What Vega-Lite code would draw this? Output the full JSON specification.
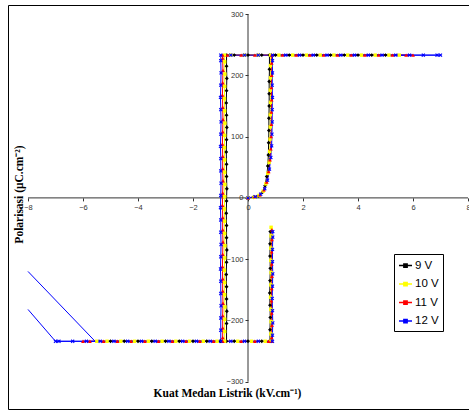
{
  "$schema": "https://vega.github.io/schema/vega-lite/v6.json",
  "width": 461,
  "height": 404,
  "autosize": "none",
  "padding": {"left": 8, "top": 5, "right": 0, "bottom": 2},
  "title": {"text": "(a)", "font": "Liberation Serif", "fontSize": 12, "fontWeight": "bold", "offset": 5, "baseline": "alphabetic", "anchor": "middle", "color": "#000"},
  "config": {"view": {"stroke": "#000", "strokeWidth": 1}, "font": "Liberation Sans"},
  "datasets": {
    "axes": [
      {"x": -8, "x2": 8, "y": 0, "y2": 0},
      {"x": 0, "x2": 0, "y": -300, "y2": 300}
    ],
    "tail": [
      {"x": -5.56, "y": -234, "x2": -8, "y2": -120},
      {"x": -7, "y": -234, "x2": -8, "y2": -182}
    ],
    "loops": [
      {"s":"9 V","x":0,"y":0},{"s":"9 V","x":0.2,"y":1},{"s":"9 V","x":0.38,"y":3},{"s":"9 V","x":0.52,"y":9},{"s":"9 V","x":0.62,"y":20},{"s":"9 V","x":0.68,"y":35},{"s":"9 V","x":0.72,"y":52},{"s":"9 V","x":0.74,"y":70},
      {"s":"9 V","x":0.75,"y":90},{"s":"9 V","x":0.76,"y":110},{"s":"9 V","x":0.76,"y":130},{"s":"9 V","x":0.77,"y":150},{"s":"9 V","x":0.77,"y":170},{"s":"9 V","x":0.77,"y":190},{"s":"9 V","x":0.78,"y":210},{"s":"9 V","x":0.78,"y":233},
      {"s":"9 V","x":1,"y":233},{"s":"9 V","x":1.5,"y":233},{"s":"9 V","x":2,"y":233},{"s":"9 V","x":2.5,"y":233},{"s":"9 V","x":3,"y":233},{"s":"9 V","x":3.5,"y":233},{"s":"9 V","x":4,"y":233},{"s":"9 V","x":4.5,"y":233},{"s":"9 V","x":5,"y":233},
      {"s":"9 V","x":0.5,"y":233},{"s":"9 V","x":0,"y":233},{"s":"9 V","x":-0.5,"y":233},{"s":"9 V","x":-0.78,"y":233},
      {"s":"9 V","x":-0.78,"y":215},{"s":"9 V","x":-0.77,"y":195},{"s":"9 V","x":-0.78,"y":175},{"s":"9 V","x":-0.79,"y":155},{"s":"9 V","x":-0.78,"y":135},{"s":"9 V","x":-0.77,"y":115},{"s":"9 V","x":-0.78,"y":95},{"s":"9 V","x":-0.79,"y":75},{"s":"9 V","x":-0.78,"y":55},{"s":"9 V","x":-0.78,"y":35},{"s":"9 V","x":-0.77,"y":15},{"s":"9 V","x":-0.78,"y":-5},{"s":"9 V","x":-0.79,"y":-25},{"s":"9 V","x":-0.78,"y":-45},{"s":"9 V","x":-0.78,"y":-65},{"s":"9 V","x":-0.77,"y":-85},{"s":"9 V","x":-0.78,"y":-105},{"s":"9 V","x":-0.79,"y":-125},{"s":"9 V","x":-0.78,"y":-145},{"s":"9 V","x":-0.78,"y":-165},{"s":"9 V","x":-0.77,"y":-185},{"s":"9 V","x":-0.78,"y":-205},{"s":"9 V","x":-0.78,"y":-234},
      {"s":"9 V","x":-1,"y":-234},{"s":"9 V","x":-1.5,"y":-234},{"s":"9 V","x":-2,"y":-234},{"s":"9 V","x":-2.5,"y":-234},{"s":"9 V","x":-3,"y":-234},{"s":"9 V","x":-3.5,"y":-234},{"s":"9 V","x":-4,"y":-234},{"s":"9 V","x":-4.5,"y":-234},{"s":"9 V","x":-5,"y":-234},
      {"s":"9 V","x":-0.5,"y":-234},{"s":"9 V","x":0,"y":-234},{"s":"9 V","x":0.5,"y":-234},{"s":"9 V","x":0.8,"y":-234},
      {"s":"9 V","x":0.8,"y":-215},{"s":"9 V","x":0.81,"y":-195},{"s":"9 V","x":0.8,"y":-175},{"s":"9 V","x":0.79,"y":-155},{"s":"9 V","x":0.8,"y":-135},{"s":"9 V","x":0.81,"y":-115},{"s":"9 V","x":0.8,"y":-95},{"s":"9 V","x":0.8,"y":-75},{"s":"9 V","x":0.81,"y":-55},

      {"s":"10 V","x":0,"y":0},{"s":"10 V","x":0.22,"y":1},{"s":"10 V","x":0.4,"y":4},{"s":"10 V","x":0.55,"y":11},{"s":"10 V","x":0.65,"y":23},{"s":"10 V","x":0.72,"y":40},{"s":"10 V","x":0.77,"y":58},{"s":"10 V","x":0.79,"y":76},
      {"s":"10 V","x":0.8,"y":96},{"s":"10 V","x":0.81,"y":116},{"s":"10 V","x":0.81,"y":136},{"s":"10 V","x":0.82,"y":156},{"s":"10 V","x":0.81,"y":176},{"s":"10 V","x":0.82,"y":196},{"s":"10 V","x":0.82,"y":216},{"s":"10 V","x":0.82,"y":233},
      {"s":"10 V","x":1.125,"y":233},{"s":"10 V","x":1.625,"y":233},{"s":"10 V","x":2.125,"y":233},{"s":"10 V","x":2.625,"y":233},{"s":"10 V","x":3.125,"y":233},{"s":"10 V","x":3.625,"y":233},{"s":"10 V","x":4.125,"y":233},{"s":"10 V","x":4.625,"y":233},{"s":"10 V","x":5.125,"y":233},{"s":"10 V","x":5.5,"y":233},
      {"s":"10 V","x":0.375,"y":233},{"s":"10 V","x":-0.125,"y":233},{"s":"10 V","x":-0.625,"y":233},{"s":"10 V","x":-0.85,"y":233},
      {"s":"10 V","x":-0.85,"y":222},{"s":"10 V","x":-0.84,"y":202},{"s":"10 V","x":-0.85,"y":182},{"s":"10 V","x":-0.86,"y":162},{"s":"10 V","x":-0.85,"y":142},{"s":"10 V","x":-0.84,"y":122},{"s":"10 V","x":-0.85,"y":102},{"s":"10 V","x":-0.86,"y":82},{"s":"10 V","x":-0.85,"y":62},{"s":"10 V","x":-0.85,"y":42},{"s":"10 V","x":-0.84,"y":22},{"s":"10 V","x":-0.85,"y":2},{"s":"10 V","x":-0.86,"y":-18},{"s":"10 V","x":-0.85,"y":-38},{"s":"10 V","x":-0.85,"y":-58},{"s":"10 V","x":-0.84,"y":-78},{"s":"10 V","x":-0.85,"y":-98},{"s":"10 V","x":-0.86,"y":-118},{"s":"10 V","x":-0.85,"y":-138},{"s":"10 V","x":-0.85,"y":-158},{"s":"10 V","x":-0.84,"y":-178},{"s":"10 V","x":-0.85,"y":-198},{"s":"10 V","x":-0.85,"y":-218},{"s":"10 V","x":-0.85,"y":-234},
      {"s":"10 V","x":-1.125,"y":-234},{"s":"10 V","x":-1.625,"y":-234},{"s":"10 V","x":-2.125,"y":-234},{"s":"10 V","x":-2.625,"y":-234},{"s":"10 V","x":-3.125,"y":-234},{"s":"10 V","x":-3.625,"y":-234},{"s":"10 V","x":-4.125,"y":-234},{"s":"10 V","x":-4.625,"y":-234},{"s":"10 V","x":-5.125,"y":-234},{"s":"10 V","x":-5.5,"y":-234},
      {"s":"10 V","x":-0.375,"y":-234},{"s":"10 V","x":0.125,"y":-234},{"s":"10 V","x":0.625,"y":-234},{"s":"10 V","x":0.83,"y":-234},
      {"s":"10 V","x":0.83,"y":-222},{"s":"10 V","x":0.84,"y":-202},{"s":"10 V","x":0.83,"y":-182},{"s":"10 V","x":0.82,"y":-162},{"s":"10 V","x":0.83,"y":-142},{"s":"10 V","x":0.84,"y":-122},{"s":"10 V","x":0.83,"y":-102},{"s":"10 V","x":0.83,"y":-82},{"s":"10 V","x":0.84,"y":-62},{"s":"10 V","x":0.84,"y":-48},

      {"s":"11 V","x":0,"y":0},{"s":"11 V","x":0.24,"y":2},{"s":"11 V","x":0.43,"y":5},{"s":"11 V","x":0.58,"y":13},{"s":"11 V","x":0.68,"y":26},{"s":"11 V","x":0.75,"y":43},{"s":"11 V","x":0.8,"y":62},{"s":"11 V","x":0.83,"y":80},
      {"s":"11 V","x":0.84,"y":100},{"s":"11 V","x":0.85,"y":120},{"s":"11 V","x":0.85,"y":140},{"s":"11 V","x":0.86,"y":160},{"s":"11 V","x":0.85,"y":180},{"s":"11 V","x":0.86,"y":200},{"s":"11 V","x":0.86,"y":220},{"s":"11 V","x":0.86,"y":233},
      {"s":"11 V","x":1.25,"y":233},{"s":"11 V","x":1.75,"y":233},{"s":"11 V","x":2.25,"y":233},{"s":"11 V","x":2.75,"y":233},{"s":"11 V","x":3.25,"y":233},{"s":"11 V","x":3.75,"y":233},{"s":"11 V","x":4.25,"y":233},{"s":"11 V","x":4.75,"y":233},{"s":"11 V","x":5.25,"y":233},{"s":"11 V","x":5.75,"y":233},{"s":"11 V","x":6,"y":233},
      {"s":"11 V","x":0.25,"y":233},{"s":"11 V","x":-0.25,"y":233},{"s":"11 V","x":-0.75,"y":233},{"s":"11 V","x":-0.92,"y":233},
      {"s":"11 V","x":-0.92,"y":228},{"s":"11 V","x":-0.91,"y":208},{"s":"11 V","x":-0.92,"y":188},{"s":"11 V","x":-0.93,"y":168},{"s":"11 V","x":-0.92,"y":148},{"s":"11 V","x":-0.91,"y":128},{"s":"11 V","x":-0.92,"y":108},{"s":"11 V","x":-0.93,"y":88},{"s":"11 V","x":-0.92,"y":68},{"s":"11 V","x":-0.92,"y":48},{"s":"11 V","x":-0.91,"y":28},{"s":"11 V","x":-0.92,"y":8},{"s":"11 V","x":-0.93,"y":-12},{"s":"11 V","x":-0.92,"y":-32},{"s":"11 V","x":-0.92,"y":-52},{"s":"11 V","x":-0.91,"y":-72},{"s":"11 V","x":-0.92,"y":-92},{"s":"11 V","x":-0.93,"y":-112},{"s":"11 V","x":-0.92,"y":-132},{"s":"11 V","x":-0.92,"y":-152},{"s":"11 V","x":-0.91,"y":-172},{"s":"11 V","x":-0.92,"y":-192},{"s":"11 V","x":-0.92,"y":-212},{"s":"11 V","x":-0.92,"y":-228},{"s":"11 V","x":-0.92,"y":-234},
      {"s":"11 V","x":-1.25,"y":-234},{"s":"11 V","x":-1.75,"y":-234},{"s":"11 V","x":-2.25,"y":-234},{"s":"11 V","x":-2.75,"y":-234},{"s":"11 V","x":-3.25,"y":-234},{"s":"11 V","x":-3.75,"y":-234},{"s":"11 V","x":-4.25,"y":-234},{"s":"11 V","x":-4.75,"y":-234},{"s":"11 V","x":-5.25,"y":-234},{"s":"11 V","x":-5.75,"y":-234},{"s":"11 V","x":-6,"y":-234},
      {"s":"11 V","x":-0.25,"y":-234},{"s":"11 V","x":0.25,"y":-234},{"s":"11 V","x":0.75,"y":-234},{"s":"11 V","x":0.86,"y":-234},
      {"s":"11 V","x":0.86,"y":-228},{"s":"11 V","x":0.87,"y":-208},{"s":"11 V","x":0.86,"y":-188},{"s":"11 V","x":0.85,"y":-168},{"s":"11 V","x":0.86,"y":-148},{"s":"11 V","x":0.87,"y":-128},{"s":"11 V","x":0.86,"y":-108},{"s":"11 V","x":0.86,"y":-88},{"s":"11 V","x":0.87,"y":-68},{"s":"11 V","x":0.87,"y":-52},

      {"s":"12 V","x":0,"y":0},{"s":"12 V","x":0.26,"y":2},{"s":"12 V","x":0.46,"y":6},{"s":"12 V","x":0.61,"y":15},{"s":"12 V","x":0.71,"y":29},{"s":"12 V","x":0.78,"y":47},{"s":"12 V","x":0.83,"y":66},{"s":"12 V","x":0.86,"y":85},
      {"s":"12 V","x":0.87,"y":104},{"s":"12 V","x":0.88,"y":124},{"s":"12 V","x":0.88,"y":144},{"s":"12 V","x":0.89,"y":164},{"s":"12 V","x":0.88,"y":184},{"s":"12 V","x":0.89,"y":204},{"s":"12 V","x":0.89,"y":224},{"s":"12 V","x":0.89,"y":233},
      {"s":"12 V","x":1.375,"y":233},{"s":"12 V","x":1.875,"y":233},{"s":"12 V","x":2.375,"y":233},{"s":"12 V","x":2.875,"y":233},{"s":"12 V","x":3.375,"y":233},{"s":"12 V","x":3.875,"y":233},{"s":"12 V","x":4.375,"y":233},{"s":"12 V","x":4.875,"y":233},{"s":"12 V","x":5.375,"y":233},{"s":"12 V","x":5.875,"y":233},{"s":"12 V","x":6.375,"y":233},{"s":"12 V","x":6.875,"y":233},{"s":"12 V","x":7,"y":233},
      {"s":"12 V","x":0.375,"y":233},{"s":"12 V","x":-0.125,"y":233},{"s":"12 V","x":-0.625,"y":233},{"s":"12 V","x":-0.99,"y":233},
      {"s":"12 V","x":-0.99,"y":224},{"s":"12 V","x":-0.98,"y":204},{"s":"12 V","x":-0.99,"y":184},{"s":"12 V","x":-1,"y":164},{"s":"12 V","x":-0.99,"y":144},{"s":"12 V","x":-0.98,"y":124},{"s":"12 V","x":-0.99,"y":104},{"s":"12 V","x":-1,"y":84},{"s":"12 V","x":-0.99,"y":64},{"s":"12 V","x":-0.99,"y":44},{"s":"12 V","x":-0.98,"y":24},{"s":"12 V","x":-0.99,"y":4},{"s":"12 V","x":-1,"y":-16},{"s":"12 V","x":-0.99,"y":-36},{"s":"12 V","x":-0.99,"y":-56},{"s":"12 V","x":-0.98,"y":-76},{"s":"12 V","x":-0.99,"y":-96},{"s":"12 V","x":-1,"y":-116},{"s":"12 V","x":-0.99,"y":-136},{"s":"12 V","x":-0.99,"y":-156},{"s":"12 V","x":-0.98,"y":-176},{"s":"12 V","x":-0.99,"y":-196},{"s":"12 V","x":-0.99,"y":-216},{"s":"12 V","x":-0.99,"y":-234},
      {"s":"12 V","x":-1.375,"y":-234},{"s":"12 V","x":-1.875,"y":-234},{"s":"12 V","x":-2.375,"y":-234},{"s":"12 V","x":-2.875,"y":-234},{"s":"12 V","x":-3.375,"y":-234},{"s":"12 V","x":-3.875,"y":-234},{"s":"12 V","x":-4.375,"y":-234},{"s":"12 V","x":-4.875,"y":-234},{"s":"12 V","x":-5.375,"y":-234},{"s":"12 V","x":-5.875,"y":-234},{"s":"12 V","x":-6.375,"y":-234},{"s":"12 V","x":-6.875,"y":-234},{"s":"12 V","x":-7,"y":-234},
      {"s":"12 V","x":-0.625,"y":-234},{"s":"12 V","x":-0.125,"y":-234},{"s":"12 V","x":0.375,"y":-234},{"s":"12 V","x":0.89,"y":-234},
      {"s":"12 V","x":0.89,"y":-224},{"s":"12 V","x":0.9,"y":-204},{"s":"12 V","x":0.89,"y":-184},{"s":"12 V","x":0.88,"y":-164},{"s":"12 V","x":0.89,"y":-144},{"s":"12 V","x":0.9,"y":-124},{"s":"12 V","x":0.89,"y":-104},{"s":"12 V","x":0.89,"y":-84},{"s":"12 V","x":0.9,"y":-64},{"s":"12 V","x":0.9,"y":-55}
    ]
  },
  "layer": [
    {
      "data": {"name": "axes"},
      "mark": {"type": "rule", "color": "#333", "strokeWidth": 1},
      "encoding": {
        "x": {
          "field": "x", "type": "quantitative",
          "scale": {"domain": [-8.727, 8.036], "nice": false, "zero": false},
          "axis": {
            "values": [-8, -6, -4, -2, 0, 2, 4, 6, 8], "domain": false, "grid": false, "offset": -211.1,
            "tickSize": 3, "tickColor": "#333", "labelFont": "Liberation Sans", "labelFontSize": 7.5, "labelColor": "#333",
            "labelPadding": 3, "labelFlush": false, "labelOverlap": false,
            "title": "Kuat Medan Listrik (kV.cm⁻¹)", "titleFont": "Liberation Serif", "titleFontSize": 11.5, "titleFontWeight": "bold",
            "titleColor": "#000", "titleX": 219, "titleY": 199, "titleAlign": "center", "titleBaseline": "alphabetic"
          }
        },
        "x2": {"field": "x2"},
        "y": {
          "field": "y", "type": "quantitative",
          "scale": {"domain": [-344.5, 314.8], "nice": false, "zero": false},
          "axis": {
            "values": [-300, -200, -100, 0, 100, 200, 300], "domain": false, "grid": false, "offset": -240,
            "tickSize": 3, "tickColor": "#333", "labelFont": "Liberation Sans", "labelFontSize": 7.5, "labelColor": "#333",
            "labelPadding": 2, "labelFlush": false, "labelOverlap": false,
            "title": "Polarisasi (μC.cm⁻²)", "titleFont": "Liberation Serif", "titleFontSize": 11.5, "titleFontWeight": "bold",
            "titleColor": "#000", "titleX": -226, "titleY": 189, "titleAngle": -90, "titleAlign": "center", "titleBaseline": "alphabetic"
          }
        },
        "y2": {"field": "y2"}
      }
    },
    {
      "data": {"name": "loops"},
      "mark": {"type": "line", "strokeWidth": 1},
      "encoding": {
        "x": {"field": "x", "type": "quantitative"},
        "y": {"field": "y", "type": "quantitative"},
        "color": {
          "field": "s", "type": "nominal",
          "scale": {"domain": ["9 V", "10 V", "11 V", "12 V"], "range": ["#000000", "#ffff00", "#ff0000", "#0000ff"]},
          "legend": {
            "orient": "none", "legendX": 386, "legendY": 249, "title": null,
            "strokeColor": "#000", "fillColor": "#fff", "padding": 4,
            "symbolType": "M-1,0H1M-0.25,-0.25H0.25V0.25H-0.25Z", "symbolSize": 169, "symbolStrokeWidth": 1.5,
            "labelFont": "Liberation Sans", "labelFontSize": 11.5, "labelColor": "#000", "labelOffset": 2, "rowPadding": 5.5,
            "encode": {"symbols": {"update": {
              "fill": {"scale": "color", "field": "value"},
              "stroke": {"scale": "color", "field": "value"}
            }}}
          }
        },
        "order": {"value": null}
      }
    },
    {
      "data": {"name": "loops"},
      "transform": [{"filter": {"field": "s", "equal": "9 V"}}],
      "mark": {"type": "point", "filled": true, "size": 15, "opacity": 1, "shape": "diamond", "color": "#000000"},
      "encoding": {"x": {"field": "x", "type": "quantitative"}, "y": {"field": "y", "type": "quantitative"}}
    },
    {
      "data": {"name": "loops"},
      "transform": [{"filter": {"field": "s", "equal": "10 V"}}],
      "mark": {"type": "point", "filled": true, "size": 12, "opacity": 1, "shape": "square", "color": "#ffff00"},
      "encoding": {"x": {"field": "x", "type": "quantitative"}, "y": {"field": "y", "type": "quantitative"}}
    },
    {
      "data": {"name": "loops"},
      "transform": [{"filter": {"field": "s", "equal": "11 V"}}],
      "mark": {"type": "point", "filled": true, "size": 15, "opacity": 1, "shape": "triangle-up", "color": "#ff0000"},
      "encoding": {"x": {"field": "x", "type": "quantitative"}, "y": {"field": "y", "type": "quantitative"}}
    },
    {
      "data": {"name": "loops"},
      "transform": [{"filter": {"field": "s", "equal": "12 V"}}],
      "mark": {"type": "point", "filled": true, "size": 15, "opacity": 1, "shape": "M-1,-0.6L-0.6,-1L0,-0.4L0.6,-1L1,-0.6L0.4,0L1,0.6L0.6,1L0,0.4L-0.6,1L-1,0.6L-0.4,0Z", "color": "#0000ff"},
      "encoding": {"x": {"field": "x", "type": "quantitative"}, "y": {"field": "y", "type": "quantitative"}}
    },
    {
      "data": {"name": "tail"},
      "mark": {"type": "rule", "color": "#0000ff", "strokeWidth": 1},
      "encoding": {
        "x": {"field": "x", "type": "quantitative"},
        "x2": {"field": "x2"},
        "y": {"field": "y", "type": "quantitative"},
        "y2": {"field": "y2"}
      }
    }
  ]
}
